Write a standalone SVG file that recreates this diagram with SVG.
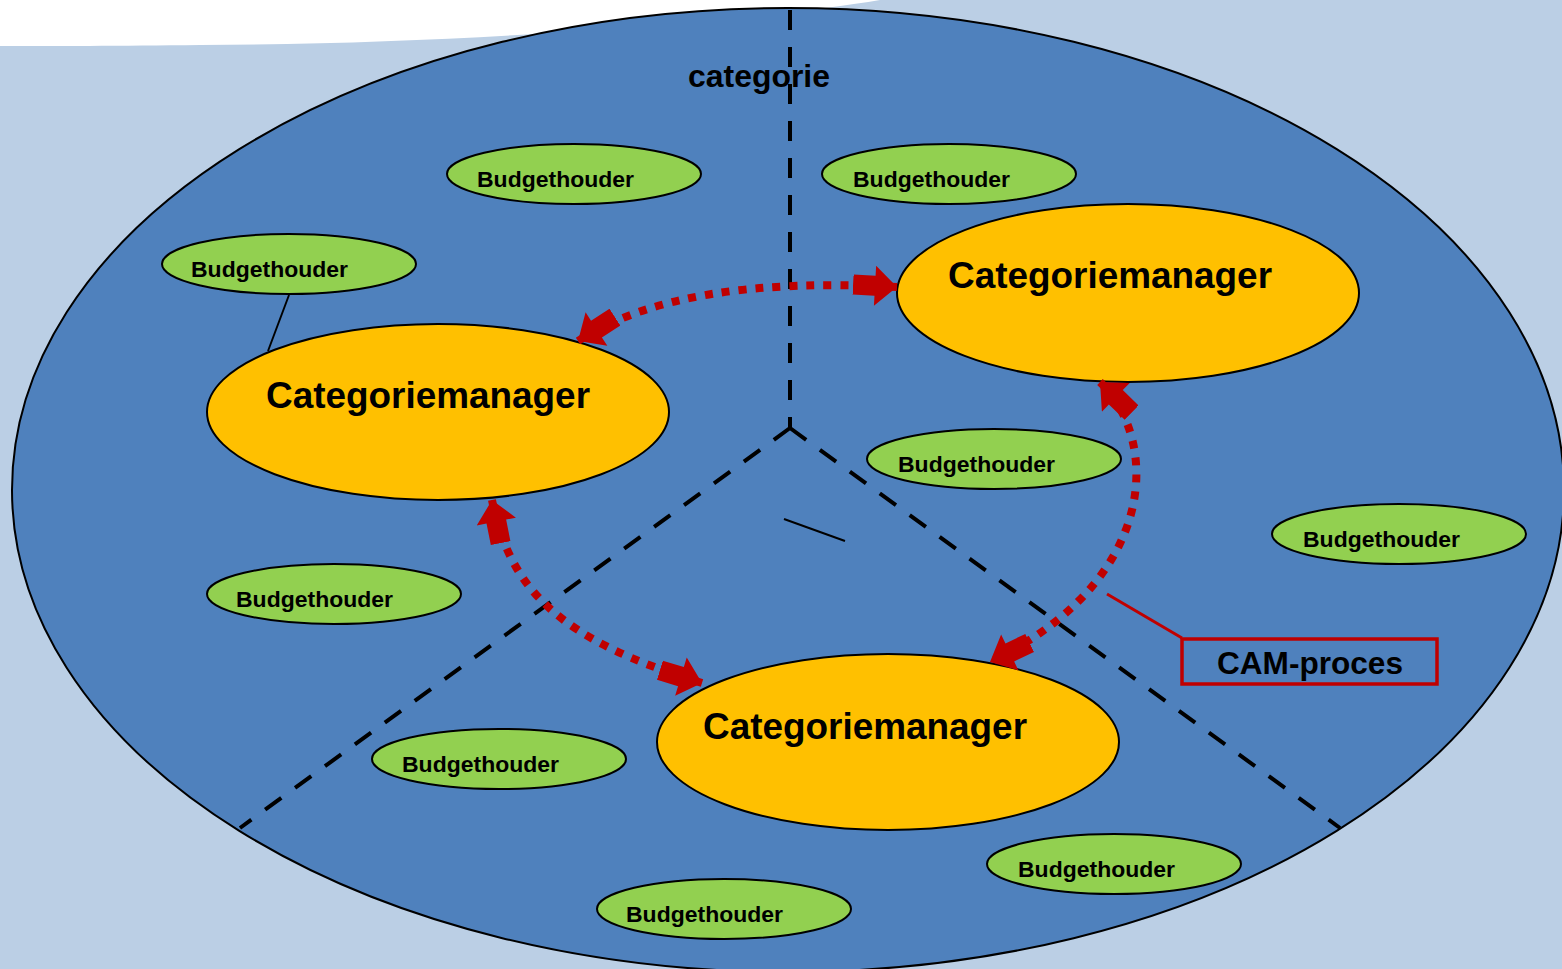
<svg xmlns="http://www.w3.org/2000/svg" width="1562" height="969" viewBox="0 0 1562 969">
<style>
.bh ellipse{fill:#92D050;stroke:#000;stroke-width:2}
.bh text{font-family:"Liberation Sans",Arial,sans-serif;font-weight:bold;font-size:22px;fill:#000}
.cm ellipse{fill:#FFC000;stroke:#000;stroke-width:2}
.cm text{font-family:"Liberation Sans",Arial,sans-serif;font-weight:bold;font-size:36px;fill:#000;text-anchor:middle}
.dash{stroke:#000;stroke-width:4;stroke-dasharray:20 17;fill:none}
.red{stroke:#C00000;stroke-width:8;stroke-dasharray:8 9;fill:none;marker-start:url(#ah);marker-end:url(#ah)}
</style>
<defs>
<marker id="ah" markerUnits="userSpaceOnUse" viewBox="0 0 44 40" refX="44" refY="20" markerWidth="44" markerHeight="40" orient="auto-start-reverse">
<path d="M0,10 H22 V0 L44,20 L22,40 V30 H0 Z" fill="#C00000"/>
</marker>
</defs>
<rect x="0" y="0" width="1562" height="969" fill="#BBCFE5"/>
<path d="M0,0 H880 C760,20 480,44 200,45 C120,46 50,46 0,46 Z" fill="#FFFFFF"/>
<g id="category">
<ellipse cx="788" cy="490" rx="776" ry="482" fill="#4F81BD" stroke="#000" stroke-width="2"/>
<text x="759" y="87" font-family="'Liberation Sans',Arial,sans-serif" font-weight="bold" font-size="31" text-anchor="middle" textLength="142" lengthAdjust="spacingAndGlyphs">categorie</text>
</g>
<g id="dividers">
<path class="dash" d="M790,10 V428"/>
<path class="dash" d="M790,428 L240,828"/>
<path class="dash" d="M790,428 L1340,828"/>
<path d="M784,519 L845,541" stroke="#000" stroke-width="2"/>
</g>
<g id="bh1" class="bh"><ellipse cx="574" cy="174" rx="127" ry="30"/><text x="477" y="187" textLength="157" lengthAdjust="spacingAndGlyphs">Budgethouder</text></g>
<g id="bh2" class="bh"><ellipse cx="949" cy="174" rx="127" ry="30"/><text x="853" y="187" textLength="157" lengthAdjust="spacingAndGlyphs">Budgethouder</text></g>
<g id="bh3" class="bh"><ellipse cx="289" cy="264" rx="127" ry="30"/><text x="191" y="277" textLength="157" lengthAdjust="spacingAndGlyphs">Budgethouder</text></g>
<g id="bh4" class="bh"><ellipse cx="994" cy="459" rx="127" ry="30"/><text x="898" y="472" textLength="157" lengthAdjust="spacingAndGlyphs">Budgethouder</text></g>
<g id="bh5" class="bh"><ellipse cx="1399" cy="534" rx="127" ry="30"/><text x="1303" y="547" textLength="157" lengthAdjust="spacingAndGlyphs">Budgethouder</text></g>
<g id="bh6" class="bh"><ellipse cx="334" cy="594" rx="127" ry="30"/><text x="236" y="607" textLength="157" lengthAdjust="spacingAndGlyphs">Budgethouder</text></g>
<g id="bh7" class="bh"><ellipse cx="499" cy="759" rx="127" ry="30"/><text x="402" y="772" textLength="157" lengthAdjust="spacingAndGlyphs">Budgethouder</text></g>
<g id="bh8" class="bh"><ellipse cx="1114" cy="864" rx="127" ry="30"/><text x="1018" y="877" textLength="157" lengthAdjust="spacingAndGlyphs">Budgethouder</text></g>
<g id="bh9" class="bh"><ellipse cx="724" cy="909" rx="127" ry="30"/><text x="626" y="922" textLength="157" lengthAdjust="spacingAndGlyphs">Budgethouder</text></g>
<g id="cm-left" class="cm"><ellipse cx="438" cy="412" rx="231" ry="88"/><text x="428" y="408" textLength="324" lengthAdjust="spacingAndGlyphs">Categoriemanager</text></g>
<g id="cm-right" class="cm"><ellipse cx="1128" cy="293" rx="231" ry="89"/><text x="1110" y="288" textLength="324" lengthAdjust="spacingAndGlyphs">Categoriemanager</text></g>
<g id="cm-bottom" class="cm"><ellipse cx="888" cy="742" rx="231" ry="88"/><text x="865" y="739" textLength="324" lengthAdjust="spacingAndGlyphs">Categoriemanager</text></g>
<g id="connectors">
<path d="M289,295 L268,351" stroke="#000" stroke-width="2" fill="none"/>
<path class="red" d="M578,341 Q680,275 897,287"/>
<path class="red" d="M492,500 C510,590 560,640 702,683"/>
<path class="red" d="M1100,382 C1160,440 1160,580 990,662"/>
<path d="M1107,594 L1182,638" stroke="#C00000" stroke-width="3" fill="none"/>
</g>
<g id="cam-proces">
<rect x="1182" y="639" width="255" height="45" fill="none" stroke="#C00000" stroke-width="3.5"/>
<text x="1310" y="674" font-family="'Liberation Sans',Arial,sans-serif" font-weight="bold" font-size="31" text-anchor="middle" textLength="186" lengthAdjust="spacingAndGlyphs">CAM-proces</text>
</g>
</svg>
